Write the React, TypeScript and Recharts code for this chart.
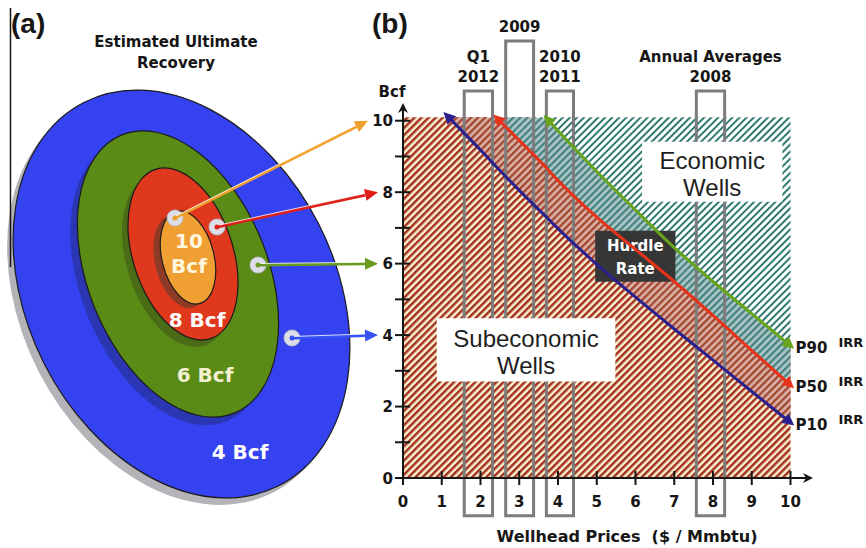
import React from "react";
import {
  ComposedChart, Area, Line, XAxis, YAxis, ReferenceArea, LabelList,
  ScatterChart, Scatter,
} from "recharts";

// ---- panel (b): break-even EUR vs wellhead price ----
const PRICE = [0, 1.13, 2, 2.42, 3, 3.71, 4, 5, 6, 7, 8, 9, 10];
const P10_IRR = [null, 10.15, 9.18, 8.7, 8.05, 7.29, 6.98, 5.98, 5.06, 4.17, 3.3, 2.42, 1.55];
const P50_IRR = [null, null, null, 10.08, 9.45, 8.67, 8.33, 7.3, 6.4, 5.5, 4.55, 3.57, 2.6];
const P90_IRR = [null, null, null, null, null, 10.06, 9.72, 8.58, 7.5, 6.45, 5.5, 4.6, 3.7];
const HATCH_TOP = 10.1;

const X_TICKS = [0, 1, 2, 3, 4, 5, 6, 7, 8, 9, 10];
const Y_TICKS = [0, 1, 2, 3, 4, 5, 6, 7, 8, 9, 10];
const Y_LABELLED = [0, 2, 4, 6, 8, 10];

// price windows (boxes)
const PERIOD_LABELS = [["Q1", "2012"], ["2009"], ["2010", "2011"], ["Annual Averages", "2008"]];
const PERIOD_LOW = [1.58, 2.65, 3.7, 7.57];
const PERIOD_HIGH = [2.31, 3.37, 4.4, 8.3];
const PERIOD_TOP = [10.83, 12.23, 10.83, 10.83];
const PERIOD_BOTTOM = -1.06;

// ---- panel (a): EUR target ----
const RING_BCF = [4, 6, 8, 10];

// layout
const FONT = "'DejaVu Sans', Verdana, sans-serif";
const ARIAL = "'Liberation Sans', Arial, sans-serif";
const INK = "#161616";
const B_MARGIN = { top: 110, right: 60, bottom: 40, left: 363 };
const Y_AXIS_W = 40;
const X_AXIS_H = 30;
const X_MAX = 10.4;
const Y_MAX = 10.3;
const AXIS_X = B_MARGIN.left + Y_AXIS_W;
const AXIS_Y = 548 - B_MARGIN.bottom - X_AXIS_H;
const yToPx = (v: number) => AXIS_Y - (v / Y_MAX) * (AXIS_Y - B_MARGIN.top);

const LINE_COLORS = { p10: "#2a208e", p50: "#e6341a", p90: "#68a41c" };

const RING_GEO = [
  { cx: 181.5, cy: 294, rx: 154, ry: 215, rot: -27, fill: "#3442f0", shade: "#b4b4b8", sx: -6, sy: 7 },
  { cx: 178, cy: 274, rx: 90, ry: 150, rot: -22, fill: "#5b8b17", shade: "#2a36b2", sx: -7, sy: 8 },
  { cx: 183, cy: 254, rx: 50, ry: 89, rot: -18, fill: "#e0381d", shade: "#4a6c16", sx: -6, sy: 7 },
  { cx: 188, cy: 257.5, rx: 26, ry: 47.5, rot: -14, fill: "#f0a032", shade: "#8e3b26", sx: -7, sy: 4 },
];
const RING_TEXT_POS = [
  { x: 240, y: 452, color: "#ffffff" },
  { x: 205, y: 375, color: "#f3f0d2" },
  { x: 197, y: 320, color: "#ffffff" },
  { x: 189, y: 241, color: "#fff6de" },
];
const DOT_GEO = [
  { x: 292, y: 338, tipX: 378, color: "#3552f2" },
  { x: 258, y: 265, tipX: 378, color: "#6b9a22" },
  { x: 217, y: 227, tipX: 378, color: "#e01f1a" },
  { x: 175, y: 218, tipX: 368, color: "#f0a030" },
];

const rows = PRICE.map((x, i) => ({ x, p10: P10_IRR[i], p50: P50_IRR[i], p90: P90_IRR[i] }));
const cap = (v: number | null) => (v == null ? HATCH_TOP : Math.min(v, HATCH_TOP));

const ringRows = RING_BCF.map((bcf, i) => ({ x: RING_GEO[i].cx, y: RING_GEO[i].cy, bcf, geo: RING_GEO[i] }));
const ringLabelRows = RING_BCF.map((bcf, i) => ({
  x: RING_TEXT_POS[i].x, y: RING_TEXT_POS[i].y, color: RING_TEXT_POS[i].color,
  lines: bcf >= 10 ? [String(bcf), "Bcf"] : [`${bcf} Bcf`],
}));
const dotRows = RING_BCF.map((bcf, i) => ({
  x: DOT_GEO[i].x, y: DOT_GEO[i].y, tipX: DOT_GEO[i].tipX, tipY: yToPx(bcf), color: DOT_GEO[i].color,
}));

function RingShape(props: any) {
  const { cx, cy, payload } = props;
  const g = payload.geo;
  const sx = cx + g.sx;
  const sy = cy + g.sy;
  return (
    <g>
      <ellipse cx={sx} cy={sy} rx={g.rx} ry={g.ry} transform={`rotate(${g.rot} ${sx} ${sy})`} fill={g.shade} />
      <ellipse cx={cx} cy={cy} rx={g.rx} ry={g.ry} transform={`rotate(${g.rot} ${cx} ${cy})`}
        fill={g.fill} stroke="#1b1b1b" strokeWidth={1.2} />
    </g>
  );
}

function RingLabel(props: any) {
  const { cx, cy, payload } = props;
  return (
    <g>
      {payload.lines.map((t: string, i: number) => (
        <text key={t} x={cx} y={cy + 7 + i * 25} textAnchor="middle" fill={payload.color}
          fontFamily={FONT} fontWeight="bold" fontSize={20}>{t}</text>
      ))}
    </g>
  );
}

function DotArrow(props: any) {
  const { cx, cy, payload } = props;
  const tx = payload.tipX;
  const ty = payload.tipY;
  const a = Math.atan2(ty - cy, tx - cx);
  const c = Math.cos(a), s = Math.sin(a);
  const bx = tx - 13 * c, by = ty - 13 * s;
  const pts = `${tx},${ty} ${bx + 6 * s},${by - 6 * c} ${bx - 6 * s},${by + 6 * c}`;
  return (
    <g>
      <circle cx={cx} cy={cy} r={8} fill="#dedee8" stroke="#b9b9c9" strokeWidth={1} />
      <line x1={cx} y1={cy} x2={bx} y2={by} stroke={payload.color} strokeWidth={3} />
      <line x1={cx} y1={cy - 1.5} x2={bx} y2={by - 1.5} stroke="#ffffff" strokeWidth={1} opacity={0.8} />
      <polygon points={pts} fill={payload.color} />
      <circle cx={cx} cy={cy} r={2.5} fill={payload.color} />
    </g>
  );
}

const XTick = (props: any) => {
  const { x, payload } = props;
  return (
    <g>
      <line x1={x} x2={x} y1={AXIS_Y - 7} y2={AXIS_Y + 7} stroke={INK} strokeWidth={2} />
      <text x={x} y={AXIS_Y + 29} textAnchor="middle" fill={INK} fontFamily={FONT} fontWeight="bold" fontSize={15}>
        {payload.value}
      </text>
    </g>
  );
};

const YTick = (props: any) => {
  const { y, payload } = props;
  return (
    <g>
      <line x1={AXIS_X - 8} x2={AXIS_X + 7} y1={y} y2={y} stroke={INK} strokeWidth={2} />
      {Y_LABELLED.includes(payload.value) && (
        <text x={AXIS_X - 10} y={y + 5.5} textAnchor="end" fill={INK} fontFamily={FONT} fontWeight="bold" fontSize={15}>
          {payload.value}
        </text>
      )}
    </g>
  );
};

const periodLabel = (lines: string[]) => (props: any) => {
  const vb = props.viewBox;
  const cx = vb.x + vb.width / 2;
  return (
    <g>
      {lines.map((t, i) => (
        <text key={t} x={cx} y={vb.y - 9 - (lines.length - 1 - i) * 20.5} textAnchor="middle" fill={INK}
          fontFamily={FONT} fontWeight="bold" fontSize={15}>{t}</text>
      ))}
    </g>
  );
};

const boxText = (lines: string[], opts: { color: string; size: number; bold?: boolean; font: string; d: number[] }) =>
  (props: any) => {
    const vb = props.viewBox;
    const cx = vb.x + vb.width / 2;
    const cy = vb.y + vb.height / 2;
    return (
      <g>
        {lines.map((t, i) => (
          <text key={t} x={cx} y={cy + opts.d[i]} textAnchor="middle" fill={opts.color} fontFamily={opts.font}
            fontWeight={opts.bold ? "bold" : "normal"} fontSize={opts.size}>{t}</text>
        ))}
      </g>
    );
  };

const endLabel = (name: string) => (props: any) => {
  const { x, y, index } = props;
  if (index !== rows.length - 1) return null;
  return (
    <g>
      <text x={x + 5} y={y + 7} fill={INK} fontFamily={FONT} fontWeight="bold" fontSize={15}>{name}</text>
      <text x={x + 48} y={y + 1} fill={INK} fontFamily={FONT} fontWeight="bold" fontSize={13}>IRR</text>
    </g>
  );
};

function Defs() {
  const hatch = (id: string, bg: string, fg: string, w: number) => (
    <pattern id={id} patternUnits="userSpaceOnUse" width={5} height={5} patternTransform="rotate(45)">
      <rect width={5} height={5} fill={bg} />
      <rect width={w} height={5} fill={fg} />
    </pattern>
  );
  const arrow = (id: string, color: string) => (
    <marker id={id} viewBox="0 0 10 10" refX={6} refY={5} markerWidth={4} markerHeight={4}
      orient="auto-start-reverse" markerUnits="strokeWidth">
      <path d="M0,0 L10,5 L0,10 z" fill={color} />
    </marker>
  );
  return (
    <svg width={0} height={0} style={{ position: "absolute" }}>
      <defs>
        {hatch("redHatch", "#fbf2d2", "#a3301d", 2.5)}
        {hatch("tealHatch", "#ffffff", "#2f7b72", 2)}
        {hatch("pinkHatch", "#d8b2a6", "#a4442f", 2.3)}
        {hatch("blueHatch", "#aac6c8", "#44817b", 2.2)}
        {arrow("arrP10", LINE_COLORS.p10)}
        {arrow("arrP50", LINE_COLORS.p50)}
        {arrow("arrP90", LINE_COLORS.p90)}
        <marker id="axisArrow" viewBox="0 0 10 10" refX={3} refY={5} markerWidth={5} markerHeight={5}
          orient="auto-start-reverse" markerUnits="strokeWidth">
          <path d="M0,0 L10,5 L0,10 L3,5 z" fill={INK} />
        </marker>
      </defs>
    </svg>
  );
}

function TargetPanel() {
  return (
    <div style={{ position: "absolute", left: 0, top: 0 }}>
      <ScatterChart width={400} height={548} margin={{ top: 0, right: 0, bottom: 0, left: 0 }}>
        <XAxis type="number" dataKey="x" domain={[0, 400]} hide />
        <YAxis type="number" dataKey="y" domain={[0, 548]} reversed hide />
        <Scatter data={ringRows} shape={RingShape} isAnimationActive={false} />
        <Scatter data={ringLabelRows} shape={RingLabel} isAnimationActive={false} />
        <Scatter data={dotRows} shape={DotArrow} isAnimationActive={false} />
      </ScatterChart>
    </div>
  );
}

function PricePanel() {
  return (
    <div style={{ position: "absolute", left: 0, top: 0 }}>
      <ComposedChart width={866} height={548} data={rows} margin={B_MARGIN}>
        <XAxis type="number" dataKey="x" domain={[0, X_MAX]} ticks={X_TICKS} interval={0} allowDataOverflow
          height={X_AXIS_H} tickSize={0} tickMargin={0} tickLine={false} tick={XTick}
          axisLine={{ stroke: INK, strokeWidth: 2, markerEnd: "url(#axisArrow)" }} />
        <YAxis type="number" domain={[0, Y_MAX]} ticks={Y_TICKS} interval={0} allowDataOverflow
          width={Y_AXIS_W} tickSize={0} tickMargin={0} tickLine={false} tick={YTick}
          axisLine={{ stroke: INK, strokeWidth: 2, markerStart: "url(#axisArrow)" }} />

        <Area type="monotone" dataKey={(r: any) => [cap(r.p90), HATCH_TOP]} stroke="none"
          fill="url(#tealHatch)" fillOpacity={1} isAnimationActive={false} />
        <Area type="monotone" dataKey={(r: any) => [0, cap(r.p90)]} stroke="none"
          fill="url(#redHatch)" fillOpacity={1} isAnimationActive={false} />
        <Area type="monotone" dataKey={(r: any) => (r.p10 == null ? null : [cap(r.p10), cap(r.p50)])} stroke="none"
          fill="url(#pinkHatch)" fillOpacity={1} isAnimationActive={false} />
        <Area type="monotone" dataKey={(r: any) => (r.p50 == null ? null : [cap(r.p50), cap(r.p90)])} stroke="none"
          fill="url(#blueHatch)" fillOpacity={1} isAnimationActive={false} />

        {PERIOD_LABELS.map((lines, i) => (
          <ReferenceArea key={lines.join("-")} x1={PERIOD_LOW[i]} x2={PERIOD_HIGH[i]} y1={PERIOD_BOTTOM} y2={PERIOD_TOP[i]}
            ifOverflow="visible" fill="none" stroke="#7c7c7c" strokeWidth={3} label={periodLabel(lines)} />
        ))}

        <ReferenceArea x1={6.17} x2={9.79} y1={7.73} y2={9.41} fill="#ffffff" fillOpacity={1} stroke="none"
          label={boxText(["Economic", "Wells"], { color: "#1e1e1e", size: 24, font: ARIAL, d: [-3, 24.5] })} />
        <ReferenceArea x1={0.87} x2={5.48} y1={2.7} y2={4.47} fill="#ffffff" fillOpacity={1} stroke="none"
          label={boxText(["Subeconomic", "Wells"], { color: "#1e1e1e", size: 24, font: ARIAL, d: [-3, 24] })} />

        <Line type="monotone" dataKey="p10" stroke={LINE_COLORS.p10} strokeWidth={3} dot={false} activeDot={false}
          markerStart="url(#arrP10)" markerEnd="url(#arrP10)" isAnimationActive={false}>
          <LabelList dataKey="p10" content={endLabel("P10")} />
        </Line>
        <Line type="monotone" dataKey="p50" stroke={LINE_COLORS.p50} strokeWidth={3} dot={false} activeDot={false}
          markerStart="url(#arrP50)" markerEnd="url(#arrP50)" isAnimationActive={false}>
          <LabelList dataKey="p50" content={endLabel("P50")} />
        </Line>
        <Line type="monotone" dataKey="p90" stroke={LINE_COLORS.p90} strokeWidth={3} dot={false} activeDot={false}
          markerStart="url(#arrP90)" markerEnd="url(#arrP90)" isAnimationActive={false}>
          <LabelList dataKey="p90" content={endLabel("P90")} />
        </Line>

        <ReferenceArea x1={4.96} x2={7.03} y1={5.49} y2={6.92} fill="#363636" fillOpacity={1} stroke="none"
          label={boxText(["Hurdle", "Rate"], { color: "#ffffff", size: 15, bold: true, font: FONT, d: [-5.7, 17.6] })} />
      </ComposedChart>
    </div>
  );
}

export default function App() {
  return (
    <div style={{ position: "absolute", left: 0, top: 0, width: 866, height: 548, background: "#fff", overflow: "hidden" }}>
      <Defs />
      <TargetPanel />
      <PricePanel />
      <svg width={866} height={548} style={{ position: "absolute", left: 0, top: 0, pointerEvents: "none" }}>
        <line x1={10.5} x2={10.5} y1={8} y2={267} stroke={INK} strokeWidth={1.5} />
        <text x={11} y={33} fill={INK} fontFamily={ARIAL} fontWeight="bold" fontSize={28}>(a)</text>
        <text x={372} y={33} fill={INK} fontFamily={ARIAL} fontWeight="bold" fontSize={28}>(b)</text>
        <text x={176} y={47} textAnchor="middle" fill={INK} fontFamily={FONT} fontWeight="bold" fontSize={15}>Estimated Ultimate</text>
        <text x={176} y={68} textAnchor="middle" fill={INK} fontFamily={FONT} fontWeight="bold" fontSize={15}>Recovery</text>
        <text x={392} y={96.5} textAnchor="middle" fill={INK} fontFamily={FONT} fontWeight="bold" fontSize={15}>Bcf</text>
        <text x={627} y={542} textAnchor="middle" fill={INK} fontFamily={FONT} fontWeight="bold" fontSize={16}
          style={{ whiteSpace: "pre" }}>{"Wellhead Prices  ($ / Mmbtu)"}</text>
      </svg>
    </div>
  );
}
